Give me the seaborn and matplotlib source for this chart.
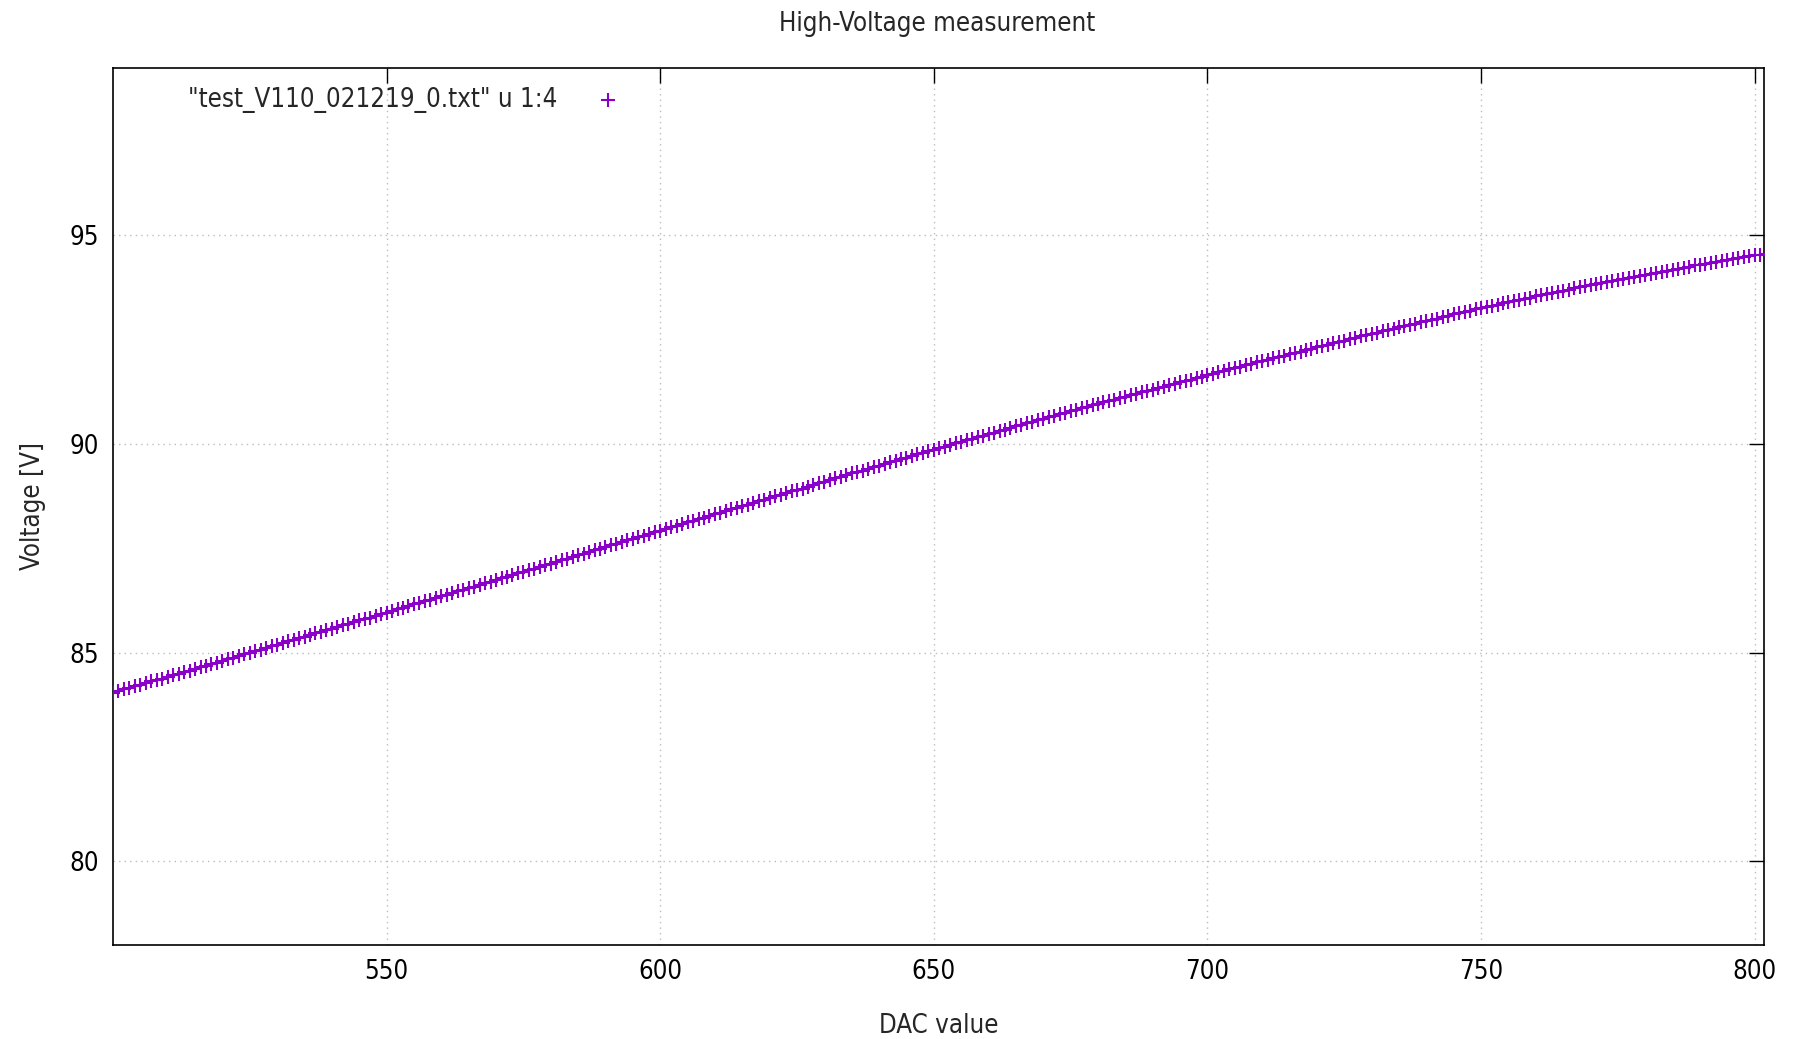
import matplotlib
matplotlib.use("Agg")
import matplotlib.pyplot as plt
import seaborn as sns
import pandas as pd

# ---- data ----
dac_start = 500
voltage = [
    84.04, 84.08, 84.12, 84.15, 84.19, 84.23, 84.27, 84.31, 84.34, 84.38,
    84.42, 84.46, 84.50, 84.53, 84.57, 84.61, 84.65, 84.69, 84.72, 84.76,
    84.80, 84.84, 84.88, 84.92, 84.96, 85.00, 85.03, 85.07, 85.11, 85.15,
    85.19, 85.23, 85.27, 85.30, 85.34, 85.38, 85.42, 85.46, 85.49, 85.53,
    85.57, 85.61, 85.65, 85.69, 85.73, 85.77, 85.80, 85.84, 85.88, 85.92,
    85.96, 86.00, 86.04, 86.08, 86.12, 86.16, 86.19, 86.23, 86.27, 86.31,
    86.35, 86.39, 86.43, 86.47, 86.51, 86.55, 86.58, 86.62, 86.66, 86.70,
    86.74, 86.78, 86.82, 86.86, 86.90, 86.94, 86.97, 87.01, 87.05, 87.09,
    87.13, 87.17, 87.21, 87.25, 87.29, 87.33, 87.37, 87.41, 87.45, 87.49,
    87.53, 87.57, 87.61, 87.65, 87.69, 87.73, 87.76, 87.80, 87.84, 87.88,
    87.92, 87.96, 88.00, 88.04, 88.08, 88.12, 88.15, 88.19, 88.23, 88.27,
    88.31, 88.35, 88.39, 88.43, 88.47, 88.51, 88.54, 88.58, 88.62, 88.66,
    88.70, 88.74, 88.78, 88.82, 88.86, 88.90, 88.93, 88.97, 89.01, 89.05,
    89.09, 89.13, 89.17, 89.21, 89.25, 89.29, 89.32, 89.36, 89.40, 89.44,
    89.48, 89.52, 89.56, 89.59, 89.63, 89.67, 89.71, 89.75, 89.78, 89.82,
    89.86, 89.90, 89.93, 89.97, 90.01, 90.05, 90.08, 90.12, 90.16, 90.19,
    90.23, 90.27, 90.30, 90.34, 90.38, 90.42, 90.45, 90.49, 90.53, 90.56,
    90.60, 90.64, 90.67, 90.71, 90.74, 90.78, 90.81, 90.85, 90.88, 90.92,
    90.95, 90.99, 91.02, 91.06, 91.09, 91.13, 91.16, 91.20, 91.23, 91.27,
    91.30, 91.33, 91.37, 91.40, 91.44, 91.47, 91.50, 91.54, 91.57, 91.61,
    91.64, 91.67, 91.71, 91.74, 91.78, 91.81, 91.84, 91.88, 91.91, 91.95,
    91.98, 92.01, 92.05, 92.08, 92.11, 92.15, 92.18, 92.21, 92.24, 92.28,
    92.31, 92.34, 92.37, 92.41, 92.44, 92.47, 92.50, 92.53, 92.57, 92.60,
    92.63, 92.66, 92.69, 92.72, 92.75, 92.79, 92.82, 92.85, 92.88, 92.91,
    92.94, 92.97, 93.00, 93.03, 93.06, 93.10, 93.13, 93.16, 93.19, 93.22,
    93.25, 93.28, 93.31, 93.33, 93.36, 93.39, 93.42, 93.45, 93.47, 93.50,
    93.53, 93.56, 93.58, 93.61, 93.64, 93.67, 93.69, 93.72, 93.75, 93.77,
    93.80, 93.83, 93.85, 93.88, 93.90, 93.93, 93.95, 93.98, 94.00, 94.03,
    94.05, 94.07, 94.10, 94.12, 94.15, 94.17, 94.19, 94.22, 94.24, 94.27,
    94.29, 94.31, 94.33, 94.36, 94.38, 94.40, 94.42, 94.44, 94.47, 94.49,
    94.51, 94.53, 94.55,
]
dac = list(range(dac_start, dac_start + len(voltage)))
x_ticks = [550, 600, 650, 700, 750, 800]
y_ticks = [80, 85, 90, 95]
title = "High-Voltage measurement"
series_label = '"test_V110_021219_0.txt" u 1:4'
x_label = "DAC value"
y_label = "Voltage [V]"

df = pd.DataFrame({"dac": dac, "voltage": voltage})

sns.set_style("white")
plt.rcParams["font.family"] = ["DejaVu Sans"]
plt.rcParams["font.stretch"] = "condensed"

FS = 18.5

fig = plt.figure(figsize=(17.96, 10.39), dpi=100)
ax = fig.add_axes([0.0629, 0.0905, 0.9193, 0.8441])

sns.scatterplot(data=df, x="dac", y="voltage", marker="+", color="#8a00c8",
                s=110, linewidth=1.5, label=series_label, ax=ax, zorder=3)

ax.set_xlim(500, 801.7)
ax.set_ylim(78, 99)
ax.set_xticks(x_ticks)
ax.set_yticks(y_ticks)
ax.grid(True, color="#bcbcbc", linestyle=(0, (1, 3)), linewidth=1.0)
ax.tick_params(direction="in", length=11, width=1.0, top=True, right=True,
               labelsize=FS, colors="black", pad=10)
for sp in ax.spines.values():
    sp.set_color("black")
    sp.set_linewidth(1.2)

ax.set_xlabel(x_label, fontsize=FS, labelpad=20)
ax.set_ylabel(y_label, fontsize=FS, labelpad=17)
fig.text(0.522, 0.977, title, ha="center", va="center", fontsize=FS)

leg = ax.legend(loc="upper left", bbox_to_anchor=(0.034, 1.0), frameon=False,
                markerfirst=False, fontsize=FS, handletextpad=1.2,
                handlelength=1.5, borderaxespad=0.35)

fig.savefig("out.png", dpi=100)
